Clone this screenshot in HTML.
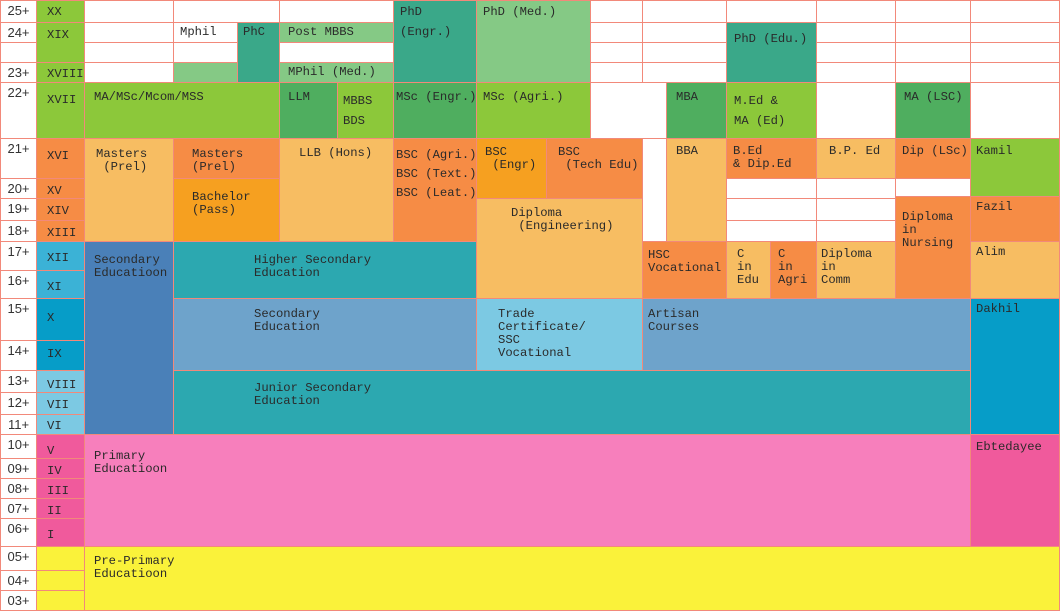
<!DOCTYPE html>
<html><head><meta charset="utf-8"><style>
body{margin:0;width:1060px;height:611px;background:#fff;position:relative;overflow:hidden;font-family:"Liberation Mono",monospace;font-size:12.2px;color:#2a2a2a}
.c{position:absolute;box-sizing:border-box;border:1px solid #f2897a;padding:3px 6px;line-height:13px;white-space:pre;overflow:hidden}
.a{text-align:center;padding:3px 0;font-family:"Liberation Sans",sans-serif;font-size:13px;color:#333}
.w{background:#fff}
.g{background:#8cc83a}.dg{background:#4fae5f}.t{background:#3aa889}.lg{background:#85c985}
.o{background:#f68c45}.lo{background:#f7bd62}.yo{background:#f6a020}
.sb{background:#4a80b8}.tl{background:#2ca8b0}.mb{background:#6ea3cb}.lb{background:#7cc9e3}
.db{background:#069dc8}.xb{background:#3bb2d6}
.p{background:#f77fbc}.dp{background:#f05a9c}.y{background:#faf23a}
</style></head><body>
<div class="c a" style="left:0;top:0;width:37px;height:23px">25+</div>
<div class="c a" style="left:0;top:22px;width:37px;height:21px">24+</div>
<div class="c a" style="left:0;top:42px;width:37px;height:21px"></div>
<div class="c a" style="left:0;top:62px;width:37px;height:21px">23+</div>
<div class="c a" style="left:0;top:82px;width:37px;height:57px">22+</div>
<div class="c a" style="left:0;top:138px;width:37px;height:41px">21+</div>
<div class="c a" style="left:0;top:178px;width:37px;height:21px">20+</div>
<div class="c a" style="left:0;top:198px;width:37px;height:23px">19+</div>
<div class="c a" style="left:0;top:220px;width:37px;height:22px">18+</div>
<div class="c a" style="left:0;top:241px;width:37px;height:30px">17+</div>
<div class="c a" style="left:0;top:270px;width:37px;height:29px">16+</div>
<div class="c a" style="left:0;top:298px;width:37px;height:43px">15+</div>
<div class="c a" style="left:0;top:340px;width:37px;height:31px">14+</div>
<div class="c a" style="left:0;top:370px;width:37px;height:23px">13+</div>
<div class="c a" style="left:0;top:392px;width:37px;height:23px">12+</div>
<div class="c a" style="left:0;top:414px;width:37px;height:21px">11+</div>
<div class="c a" style="left:0;top:434px;width:37px;height:25px">10+</div>
<div class="c a" style="left:0;top:458px;width:37px;height:21px">09+</div>
<div class="c a" style="left:0;top:478px;width:37px;height:21px">08+</div>
<div class="c a" style="left:0;top:498px;width:37px;height:21px">07+</div>
<div class="c a" style="left:0;top:518px;width:37px;height:29px">06+</div>
<div class="c a" style="left:0;top:546px;width:37px;height:25px">05+</div>
<div class="c a" style="left:0;top:570px;width:37px;height:21px">04+</div>
<div class="c a" style="left:0;top:590px;width:37px;height:21px">03+</div>
<div class="c g" style="left:36px;top:0;width:49px;height:23px;padding-left:10px;padding-top:5px">XX</div>
<div class="c g" style="left:36px;top:22px;width:49px;height:41px;padding-left:10px;padding-top:6px">XIX</div>
<div class="c g" style="left:36px;top:62px;width:49px;height:21px;padding-left:10px;padding-top:5px">XVIII</div>
<div class="c g" style="left:36px;top:82px;width:49px;height:57px;padding-left:10px;padding-top:11px">XVII</div>
<div class="c o" style="left:36px;top:138px;width:49px;height:41px;padding-left:10px;padding-top:11px">XVI</div>
<div class="c o" style="left:36px;top:178px;width:49px;height:21px;padding-left:10px;padding-top:6px">XV</div>
<div class="c o" style="left:36px;top:198px;width:49px;height:23px;padding-left:10px;padding-top:6px">XIV</div>
<div class="c o" style="left:36px;top:220px;width:49px;height:22px;padding-left:10px;padding-top:6px">XIII</div>
<div class="c xb" style="left:36px;top:241px;width:49px;height:30px;padding-left:10px;padding-top:10px">XII</div>
<div class="c xb" style="left:36px;top:270px;width:49px;height:29px;padding-left:10px;padding-top:10px">XI</div>
<div class="c db" style="left:36px;top:298px;width:49px;height:43px;padding-left:10px;padding-top:13px">X</div>
<div class="c db" style="left:36px;top:340px;width:49px;height:31px;padding-left:10px;padding-top:7px">IX</div>
<div class="c lb" style="left:36px;top:370px;width:49px;height:23px;padding-left:10px;padding-top:8px">VIII</div>
<div class="c lb" style="left:36px;top:392px;width:49px;height:23px;padding-left:10px;padding-top:6px">VII</div>
<div class="c lb" style="left:36px;top:414px;width:49px;height:21px;padding-left:10px;padding-top:5px">VI</div>
<div class="c dp" style="left:36px;top:434px;width:49px;height:25px;padding-left:10px;padding-top:10px">V</div>
<div class="c dp" style="left:36px;top:458px;width:49px;height:21px;padding-left:10px;padding-top:6px">IV</div>
<div class="c dp" style="left:36px;top:478px;width:49px;height:21px;padding-left:10px;padding-top:6px">III</div>
<div class="c dp" style="left:36px;top:498px;width:49px;height:21px;padding-left:10px;padding-top:6px">II</div>
<div class="c dp" style="left:36px;top:518px;width:49px;height:29px;padding-left:10px;padding-top:10px">I</div>
<div class="c y" style="left:36px;top:546px;width:49px;height:25px"></div>
<div class="c y" style="left:36px;top:570px;width:49px;height:21px"></div>
<div class="c y" style="left:36px;top:590px;width:49px;height:21px"></div>
<div class="c w" style="left:84px;top:0;width:90px;height:23px"></div>
<div class="c w" style="left:84px;top:22px;width:90px;height:21px"></div>
<div class="c w" style="left:84px;top:42px;width:90px;height:21px"></div>
<div class="c w" style="left:84px;top:62px;width:90px;height:21px"></div>
<div class="c w" style="left:173px;top:0;width:107px;height:23px"></div>
<div class="c w" style="left:173px;top:22px;width:65px;height:21px;padding-left:6px">Mphil</div>
<div class="c w" style="left:173px;top:42px;width:65px;height:21px"></div>
<div class="c lg" style="left:173px;top:62px;width:65px;height:21px"></div>
<div class="c t" style="left:237px;top:22px;width:43px;height:61px;padding-left:5px">PhC</div>
<div class="c w" style="left:279px;top:0;width:115px;height:23px"></div>
<div class="c lg" style="left:279px;top:22px;width:115px;height:21px;padding-left:8px">Post MBBS</div>
<div class="c w" style="left:279px;top:42px;width:115px;height:21px"></div>
<div class="c lg" style="left:279px;top:62px;width:115px;height:21px;padding-left:8px">MPhil (Med.)</div>
<div class="c t" style="left:393px;top:0;width:84px;height:83px;padding-left:6px;line-height:20px;padding-top:1px">PhD
(Engr.)</div>
<div class="c lg" style="left:476px;top:0;width:115px;height:83px;padding-left:6px;padding-top:5px">PhD (Med.)</div>
<div class="c w" style="left:590px;top:0;width:53px;height:23px"></div>
<div class="c w" style="left:590px;top:22px;width:53px;height:21px"></div>
<div class="c w" style="left:590px;top:42px;width:53px;height:21px"></div>
<div class="c w" style="left:590px;top:62px;width:53px;height:21px"></div>
<div class="c w" style="left:642px;top:0;width:85px;height:23px"></div>
<div class="c w" style="left:642px;top:22px;width:85px;height:21px"></div>
<div class="c w" style="left:642px;top:42px;width:85px;height:21px"></div>
<div class="c w" style="left:642px;top:62px;width:85px;height:21px"></div>
<div class="c w" style="left:726px;top:0;width:91px;height:23px"></div>
<div class="c t" style="left:726px;top:22px;width:91px;height:61px;padding-left:7px;padding-top:10px">PhD (Edu.)</div>
<div class="c w" style="left:816px;top:0;width:80px;height:23px"></div>
<div class="c w" style="left:816px;top:22px;width:80px;height:21px"></div>
<div class="c w" style="left:816px;top:42px;width:80px;height:21px"></div>
<div class="c w" style="left:816px;top:62px;width:80px;height:21px"></div>
<div class="c w" style="left:895px;top:0;width:76px;height:23px"></div>
<div class="c w" style="left:895px;top:22px;width:76px;height:21px"></div>
<div class="c w" style="left:895px;top:42px;width:76px;height:21px"></div>
<div class="c w" style="left:895px;top:62px;width:76px;height:21px"></div>
<div class="c w" style="left:970px;top:0;width:90px;height:23px"></div>
<div class="c w" style="left:970px;top:22px;width:90px;height:21px"></div>
<div class="c w" style="left:970px;top:42px;width:90px;height:21px"></div>
<div class="c w" style="left:970px;top:62px;width:90px;height:21px"></div>
<div class="c g" style="left:84px;top:82px;width:196px;height:57px;padding-left:9px;padding-top:8px">MA/MSc/Mcom/MSS</div>
<div class="c dg" style="left:279px;top:82px;width:59px;height:57px;padding-left:8px;padding-top:8px">LLM</div>
<div class="c g" style="left:337px;top:82px;width:57px;height:57px;padding-left:5px;padding-top:8px;line-height:20px">MBBS
BDS</div>
<div class="c dg" style="left:393px;top:82px;width:84px;height:57px;padding-left:2px;padding-top:8px">MSc (Engr.)</div>
<div class="c g" style="left:476px;top:82px;width:115px;height:57px;padding-left:6px;padding-top:8px">MSc (Agri.)</div>
<div class="c w" style="left:590px;top:82px;width:77px;height:57px"></div>
<div class="c dg" style="left:666px;top:82px;width:61px;height:57px;padding-left:9px;padding-top:8px">MBA</div>
<div class="c g" style="left:726px;top:82px;width:91px;height:57px;padding-left:7px;padding-top:8px;line-height:20px">M.Ed &amp;
MA (Ed)</div>
<div class="c w" style="left:816px;top:82px;width:80px;height:57px"></div>
<div class="c dg" style="left:895px;top:82px;width:76px;height:57px;padding-left:8px;padding-top:8px">MA (LSC)</div>
<div class="c w" style="left:970px;top:82px;width:90px;height:57px"></div>
<div class="c lo" style="left:84px;top:138px;width:90px;height:104px;padding-left:11px;padding-top:9px">Masters
 (Prel)</div>
<div class="c o" style="left:173px;top:138px;width:107px;height:41px;padding-left:18px;padding-top:9px">Masters
(Prel)</div>
<div class="c yo" style="left:173px;top:178px;width:107px;height:64px;padding-left:18px;padding-top:12px">Bachelor
(Pass)</div>
<div class="c lo" style="left:279px;top:138px;width:115px;height:104px;padding-left:19px;padding-top:8px">LLB (Hons)</div>
<div class="c o" style="left:393px;top:138px;width:84px;height:104px;padding-left:2px;padding-top:7px;line-height:19px">BSC (Agri.)
BSC (Text.)
BSC (Leat.)</div>
<div class="c yo" style="left:476px;top:138px;width:71px;height:61px;padding-left:8px;padding-top:7px">BSC
 (Engr)</div>
<div class="c o" style="left:546px;top:138px;width:97px;height:61px;padding-left:11px;padding-top:7px">BSC
 (Tech Edu)</div>
<div class="c lo" style="left:476px;top:198px;width:167px;height:101px;padding-left:34px;padding-top:8px">Diploma
 (Engineering)</div>
<div class="c w" style="left:642px;top:138px;width:25px;height:104px"></div>
<div class="c lo" style="left:666px;top:138px;width:61px;height:104px;padding-left:9px;padding-top:6px">BBA</div>
<div class="c o" style="left:726px;top:138px;width:91px;height:41px;padding-left:6px;padding-top:6px">B.Ed
&amp; Dip.Ed</div>
<div class="c lo" style="left:816px;top:138px;width:80px;height:41px;padding-left:12px;padding-top:6px">B.P. Ed</div>
<div class="c o" style="left:895px;top:138px;width:76px;height:41px;padding-left:6px;padding-top:6px">Dip (LSc)</div>
<div class="c g" style="left:970px;top:138px;width:90px;height:59px;padding-left:5px;padding-top:6px">Kamil</div>
<div class="c w" style="left:726px;top:178px;width:91px;height:21px"></div>
<div class="c w" style="left:726px;top:198px;width:91px;height:23px"></div>
<div class="c w" style="left:726px;top:220px;width:91px;height:22px"></div>
<div class="c w" style="left:816px;top:178px;width:80px;height:21px"></div>
<div class="c w" style="left:816px;top:198px;width:80px;height:23px"></div>
<div class="c w" style="left:816px;top:220px;width:80px;height:22px"></div>
<div class="c w" style="left:895px;top:178px;width:76px;height:19px"></div>
<div class="c o" style="left:895px;top:196px;width:76px;height:103px;padding-left:6px;padding-top:14px">Diploma
in
Nursing</div>
<div class="c o" style="left:970px;top:196px;width:90px;height:46px;padding-left:5px;padding-top:4px">Fazil</div>
<div class="c lo" style="left:970px;top:241px;width:90px;height:58px;padding-left:5px;padding-top:4px">Alim</div>
<div class="c o" style="left:642px;top:241px;width:85px;height:58px;padding-left:5px;padding-top:7px">HSC
Vocational</div>
<div class="c lo" style="left:726px;top:241px;width:45px;height:58px;padding-left:10px;padding-top:6px">C
in
Edu</div>
<div class="c o" style="left:770px;top:241px;width:47px;height:58px;padding-left:7px;padding-top:6px">C
in
Agri</div>
<div class="c lo" style="left:816px;top:241px;width:80px;height:58px;padding-left:4px;padding-top:6px">Diploma
in
Comm</div>
<div class="c sb" style="left:84px;top:241px;width:90px;height:194px;padding-left:9px;padding-top:12px">Secondary
Educatioon</div>
<div class="c tl" style="left:173px;top:241px;width:304px;height:58px;padding-left:80px;padding-top:12px">Higher Secondary
Education</div>
<div class="c mb" style="left:173px;top:298px;width:304px;height:73px;padding-left:80px;padding-top:9px">Secondary
Education</div>
<div class="c lb" style="left:476px;top:298px;width:167px;height:73px;padding-left:21px;padding-top:9px">Trade
Certificate/
SSC
Vocational</div>
<div class="c mb" style="left:642px;top:298px;width:329px;height:73px;padding-left:5px;padding-top:9px">Artisan
Courses</div>
<div class="c db" style="left:970px;top:298px;width:90px;height:137px;padding-left:5px;padding-top:4px">Dakhil</div>
<div class="c tl" style="left:173px;top:370px;width:798px;height:65px;padding-left:80px;padding-top:11px">Junior Secondary
Education</div>
<div class="c p" style="left:84px;top:434px;width:887px;height:113px;padding-left:9px;padding-top:15px">Primary
Educatioon</div>
<div class="c dp" style="left:970px;top:434px;width:90px;height:113px;padding-left:5px;padding-top:6px">Ebtedayee</div>
<div class="c y" style="left:84px;top:546px;width:976px;height:65px;padding-left:9px;padding-top:8px">Pre-Primary
Educatioon</div>
</body></html>
